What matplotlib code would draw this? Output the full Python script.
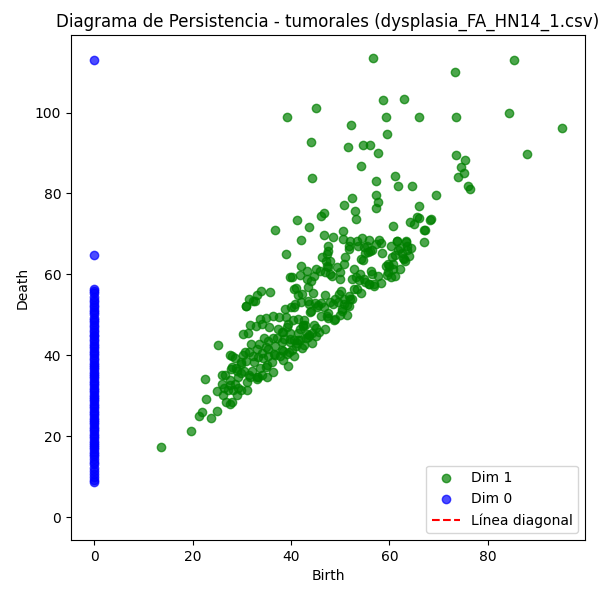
import matplotlib
matplotlib.use("Agg")
import matplotlib.pyplot as plt
import numpy as np

# Dim 1 points (birth, death)
dim1_birth = [
    13.5, 19.7, 21.3, 21.8, 23.8, 25.0, 22.7, 22.4, 25.2, 25.0, 26.2, 26.7, 27.5, 27.9, 25.9, 26.5,
    27.6, 25.9, 26.4, 27.2, 29.3, 28.2, 29.9, 31.0, 28.6, 27.6, 29.3, 29.9, 31.6, 33.0, 31.0, 27.8,
    28.8, 29.0, 29.8, 28.0, 28.6, 30.4, 30.8, 30.2, 31.4, 32.2, 32.4, 32.0, 31.4, 33.3, 34.1, 33.7,
    34.9, 35.1, 34.3, 35.3, 36.5, 36.1, 37.8, 39.2, 38.4, 39.4, 40.6, 34.1, 33.1, 34.9, 36.7, 38.2,
    37.1, 36.3, 35.3, 34.5, 33.5, 31.8, 30.2, 31.2, 31.6, 32.9, 34.1, 35.5, 33.7, 34.9, 36.3, 37.6,
    39.0, 39.4, 37.3, 38.6, 39.8, 40.6, 41.8, 41.0, 39.6, 38.4, 42.7, 42.2, 41.2, 39.8, 41.4, 41.8,
    43.1, 43.7, 43.3, 44.3, 45.1, 44.3, 45.1, 46.9, 42.4, 42.9, 40.4, 41.4, 42.7, 30.8, 31.4, 32.7,
    33.1, 35.7, 33.9, 36.7, 39.0, 39.8, 40.0, 40.6, 41.0, 41.8, 42.0, 42.0, 41.2, 43.7, 42.2, 42.0,
    43.5, 43.7, 44.9, 46.1, 44.5, 44.1, 43.3, 45.1, 44.1, 45.5, 46.1, 47.6, 47.6, 48.8, 50.0, 51.4,
    50.4, 51.8, 48.0, 48.6, 49.6, 50.8, 52.4, 49.0, 51.8, 50.2, 52.7, 54.3, 46.9, 48.0, 50.0, 47.6,
    49.4, 50.8, 52.7, 47.1, 47.3, 51.0, 47.6, 46.7, 48.6, 50.6, 50.6, 51.8, 53.3, 53.5, 54.9, 55.9,
    55.7, 56.5, 57.3, 57.8, 58.2, 58.4, 54.3, 54.7, 53.1, 53.9, 55.1, 55.9, 56.9, 57.6, 56.3, 56.5,
    58.2, 59.4, 59.6, 60.4, 59.2, 59.8, 60.8, 60.8, 61.2, 60.4, 61.6, 61.8, 62.7, 63.1, 63.3, 63.5,
    64.3, 67.1, 67.1, 60.8, 64.1, 64.9, 65.9, 68.2, 66.1, 69.4, 64.5, 61.8, 61.2, 57.3, 57.3, 57.6,
    57.3, 52.4, 50.8, 52.9, 53.1, 46.7, 46.1, 44.3, 54.3, 51.6, 54.7, 56.1, 57.6, 59.4, 44.1, 39.2,
    45.1, 52.2, 59.2, 58.6, 62.9, 66.1, 56.7, 73.3, 73.5, 84.3, 85.3, 95.0, 88.0, 73.5, 75.3, 74.5,
    75.1, 73.9, 75.9, 76.3,
    40.1, 40.5, 41.5, 40.8, 38.8, 43.2, 43.5, 44.6, 45.9, 47.3, 48.3, 48.0, 47.6, 46.3, 50.0, 52.4,
    54.1, 54.8, 55.8, 56.8, 53.4, 52.0, 50.7, 51.4, 49.7, 50.3, 49.0, 47.3, 46.9, 46.6, 45.2, 43.9,
    42.5, 39.1, 38.4, 45.6, 44.6, 52.0, 54.4, 51.7, 55.4, 56.1, 55.1, 61.6, 62.1, 62.6, 62.9, 60.5,
    59.9, 61.2, 62.2, 63.3, 63.6, 63.9, 65.6, 68.5, 67.3,
    32.3, 30.8, 38.1, 39.8, 41.5, 43.5, 35.4, 38.1, 40.1, 30.6, 33.3, 36.7, 27.6, 29.9, 27.9, 33.0,
    35.0, 36.4, 28.9,
]
dim1_death = [
    17.2, 21.3, 25.0, 25.9, 24.4, 26.2, 29.3, 34.2, 42.6, 31.1, 30.1, 28.5, 27.9, 28.5, 35.2, 35.0,
    32.6, 33.0, 32.0, 31.5, 31.8, 31.4, 31.4, 31.4, 33.0, 33.8, 34.7, 35.5, 34.7, 34.2, 33.4, 36.7,
    36.9, 36.0, 37.9, 39.7, 39.3, 36.2, 38.7, 40.1, 40.9, 39.9, 38.4, 36.0, 35.2, 34.7, 35.0, 36.9,
    37.2, 37.7, 39.2, 39.9, 40.4, 38.4, 39.9, 40.4, 38.9, 37.4, 39.9, 40.6, 41.6, 42.1, 42.4, 43.3,
    44.3, 44.3, 43.6, 44.3, 42.9, 42.9, 45.3, 45.6, 47.5, 47.3, 47.8, 47.0, 49.0, 49.3, 49.8, 49.5,
    49.5, 47.8, 46.6, 44.1, 45.6, 43.8, 43.8, 42.4, 40.9, 41.1, 42.6, 41.9, 43.1, 43.3, 45.6, 46.6,
    44.3, 45.1, 45.3, 45.6, 44.8, 43.1, 46.8, 46.6, 47.3, 47.5, 48.8, 49.0, 48.8, 52.2, 53.9, 53.4,
    54.9, 55.7, 55.9, 70.9, 65.0, 59.4, 52.0, 52.0, 56.7, 59.9, 62.1, 68.5, 73.4, 71.7, 55.2, 53.2,
    53.4, 52.7, 53.0, 53.0, 55.4, 58.4, 60.8, 61.3, 51.0, 52.5, 49.8, 50.5, 49.3, 48.8, 50.0, 50.0,
    51.0, 52.2, 53.2, 52.7, 53.2, 52.7, 53.9, 53.9, 54.7, 55.9, 56.4, 55.4, 60.6, 60.1, 60.6, 61.8,
    61.8, 62.6, 61.3, 63.3, 65.0, 64.3, 67.0, 69.7, 69.2, 70.7, 68.7, 67.0, 68.2, 67.0, 66.7, 68.5,
    65.5, 66.0, 67.5, 68.5, 67.7, 65.3, 63.8, 63.5, 59.4, 58.6, 58.1, 57.6, 57.6, 59.6, 60.8, 60.1,
    57.9, 59.9, 60.6, 59.4, 62.1, 62.6, 62.6, 61.3, 64.8, 67.0, 68.2, 66.0, 64.0, 63.3, 68.0, 66.0,
    66.5, 68.0, 70.9, 71.9, 72.9, 72.4, 73.9, 73.4, 76.8, 79.6, 81.8, 81.8, 84.2, 83.0, 79.6, 77.8,
    76.4, 78.8, 77.1, 75.6, 73.6, 75.1, 74.4, 83.7, 86.7, 91.6, 91.9, 91.9, 90.1, 94.6, 92.6, 98.8,
    101.2, 97.0, 98.8, 103.2, 103.4, 99.0, 113.5, 110.1, 98.8, 100.0, 113.1, 96.3, 89.7, 89.4, 88.2, 86.5,
    85.0, 84.0, 81.8, 81.0,
    59.3, 56.4, 54.8, 52.7, 51.5, 58.9, 56.8, 59.7, 60.9, 62.1, 59.7, 63.4, 65.8, 64.2, 58.9, 58.9,
    60.1, 58.9, 57.6, 57.2, 56.4, 53.9, 53.9, 52.3, 55.2, 51.5, 49.0, 49.8, 54.8, 51.9, 51.9, 50.7,
    47.4, 47.0, 45.7, 45.7, 47.4, 68.3, 69.1, 66.3, 67.1, 65.8, 65.4, 68.3, 66.4, 65.4, 63.8, 64.2,
    62.0, 59.7, 61.3, 68.3, 67.1, 64.6, 74.1, 73.6, 71.0,
    53.5, 52.1, 45.7, 44.1, 43.7, 44.5, 41.6, 41.2, 41.2, 40.8, 39.6, 40.0, 40.0, 38.3, 37.1, 34.7,
    34.7, 35.9, 30.1,
]

# Dim 0 points (birth = 0)
dim0_death = [
    113.0, 64.7, 56.5, 56.0, 55.3, 54.4, 53.7, 53.1, 52.4, 51.9, 51.2, 50.6, 50.1, 49.3, 48.8, 48.1,
    47.5, 47.0, 46.3, 45.8, 45.1, 44.7, 44.0, 43.5, 42.9, 42.2, 41.8, 41.1, 40.5, 40.0, 39.4, 38.9,
    38.2, 37.7, 37.1, 36.6, 35.9, 35.4, 34.8, 34.3, 33.7, 33.1, 32.6, 32.0, 31.4, 30.9, 30.2, 29.8,
    29.1, 28.6, 28.0, 27.4, 26.9, 26.3, 25.7, 25.2, 24.6, 24.0, 23.5, 22.9, 22.3, 21.8, 21.2, 20.6,
    20.1, 19.5, 18.9, 18.4, 17.8, 17.2, 16.7, 16.1, 15.5, 15.0, 14.3, 13.7, 13.0, 12.2, 11.4, 10.7,
    9.9, 9.2, 8.6,
]
dim0_birth = [0.0] * len(dim0_death)

fig = plt.figure(figsize=(6, 6), dpi=100)
ax = fig.add_axes([71/600, 1 - 540/600, (585 - 71)/600, (540 - 35)/600])

ax.scatter(dim1_birth, dim1_death, color="green", alpha=0.7, label="Dim 1")
ax.scatter(dim0_birth, dim0_death, color="blue", alpha=0.7, label="Dim 0")
ax.plot([0, 0], [0, 0], "r--", label="Línea diagonal")

ax.set_xlabel("Birth")
ax.set_ylabel("Death")
ax.set_title("Diagrama de Persistencia - tumorales (dysplasia_FA_HN14_1.csv)")
ax.legend(loc="lower right")

fig.savefig("out.png", dpi=100)
